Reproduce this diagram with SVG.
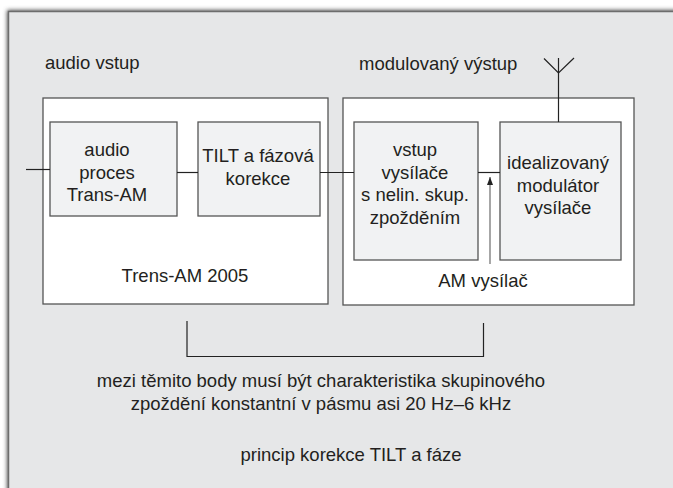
<svg xmlns="http://www.w3.org/2000/svg" width="673" height="488" viewBox="0 0 673 488">
  <defs>
    <filter id="sh" x="-5%" y="-5%" width="110%" height="110%">
      <feGaussianBlur stdDeviation="2"/>
    </filter>
    <marker id="ah" markerWidth="8" markerHeight="6" refX="8" refY="3" orient="auto" markerUnits="userSpaceOnUse" viewBox="0 0 8 6">
      <path d="M0,0 L8,3 L0,6 Z" fill="#222"/>
    </marker>
    <style>
      text { font-family: "Liberation Sans", Arial, sans-serif; font-size: 18.5px; fill: #231f20; }
      .c { text-anchor: middle; }
      .outer { fill: #ffffff; stroke: #555; stroke-width: 1.3; }
      .inner { fill: #f1f2f3; stroke: #555; stroke-width: 1.3; }
      .ln { fill: none; stroke: #222; stroke-width: 1.2; }
    </style>
  </defs>
  <rect width="673" height="488" fill="#ffffff"/>
  <rect x="7" y="10" width="680" height="490" fill="#555" filter="url(#sh)"/>
  <rect x="8.5" y="11.5" width="680" height="490" fill="#e6e7e8" stroke="#6d6d6d" stroke-width="1.5"/>

  <text x="45" y="69">audio vstup</text>
  <text x="359" y="70">modulovaný výstup</text>

  <g id="trensam">
    <rect class="outer" x="43" y="98" width="285" height="206"/>
    <text class="c" x="185" y="282">Trens-AM 2005</text>
  </g>
  <g id="audioproc">
    <rect class="inner" x="50" y="122" width="127" height="94"/>
    <text class="c" x="107" y="156">audio</text>
    <text class="c" x="107" y="178.5">proces</text>
    <text class="c" x="107" y="201">Trans-AM</text>
  </g>
  <g id="tilt">
    <rect class="inner" x="198" y="122" width="122" height="94"/>
    <text class="c" x="258" y="162">TILT a fázová</text>
    <text class="c" x="258" y="184.5">korekce</text>
  </g>
  <g id="amvysilac">
    <rect class="outer" x="343" y="98" width="291" height="207"/>
    <text class="c" x="483" y="287">AM vysílač</text>
  </g>
  <g id="vstup">
    <rect class="inner" x="354" y="122" width="124" height="138"/>
    <text class="c" x="415" y="156">vstup</text>
    <text class="c" x="415" y="178.5">vysílače</text>
    <text class="c" x="415" y="201">s nelin. skup.</text>
    <text class="c" x="415" y="223.5">zpožděním</text>
  </g>
  <g id="modulator">
    <rect class="inner" x="500" y="122" width="121" height="138"/>
    <text class="c" x="558" y="169">idealizovaný</text>
    <text class="c" x="558" y="191.5">modulátor</text>
    <text class="c" x="558" y="214">vysílače</text>
  </g>

  <g id="connectors">
    <line class="ln" x1="26" y1="169.5" x2="50" y2="169.5"/>
    <line class="ln" x1="177" y1="172.5" x2="198" y2="172.5"/>
    <line class="ln" x1="320" y1="172.5" x2="354" y2="172.5"/>
    <line class="ln" x1="478" y1="172.5" x2="500" y2="172.5"/>
    <line class="ln" x1="558.5" y1="58" x2="558.5" y2="122"/>
    <polyline class="ln" points="544,58.5 558.5,73 574,58"/>
    <line x1="490" y1="264" x2="490" y2="177" stroke="#777" stroke-width="1.3" marker-end="url(#ah)"/>
    <polyline class="ln" stroke="#444" points="187,321 187,356.5 483.5,356.5 483.5,323"/>
  </g>

  <text class="c" x="321" y="387">mezi těmito body musí být charakteristika skupinového</text>
  <text class="c" x="321" y="410">zpoždění konstantní v pásmu asi 20 Hz–6 kHz</text>
  <text class="c" x="351" y="461">princip korekce TILT a fáze</text>
</svg>
